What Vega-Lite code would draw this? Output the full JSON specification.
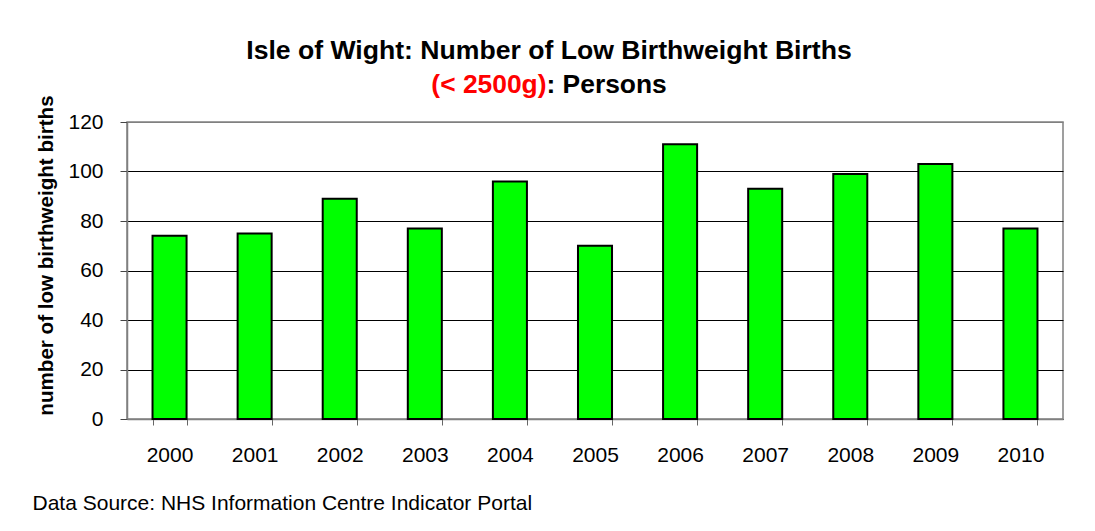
{
  "$schema": "https://vega.github.io/schema/vega-lite/v6.json",
  "width": 936,
  "height": 297,
  "autosize": {"type": "none"},
  "padding": {"left": 127, "top": 122, "right": 32, "bottom": 112},
  "background": "white",
  "config": {
    "font": "Liberation Sans",
    "view": {"stroke": "#808080", "strokeWidth": 1.5}
  },
  "title": {
    "text": "Isle of Wight: Number of Low Birthweight Births",
    "font": "Liberation Sans",
    "fontSize": 26.6,
    "fontWeight": "bold",
    "color": "black",
    "anchor": "middle",
    "baseline": "alphabetic",
    "dx": -46,
    "offset": -14
  },
  "data": {
    "values": [
      {"year": "2000", "births": 74},
      {"year": "2001", "births": 75},
      {"year": "2002", "births": 89},
      {"year": "2003", "births": 77},
      {"year": "2004", "births": 96},
      {"year": "2005", "births": 70},
      {"year": "2006", "births": 111},
      {"year": "2007", "births": 93},
      {"year": "2008", "births": 99},
      {"year": "2009", "births": 103},
      {"year": "2010", "births": 77}
    ]
  },
  "resolve": {"axis": {"x": "independent", "y": "independent"}},
  "layer": [
    {
      "mark": {"type": "bar", "fill": "#00FF00", "stroke": "black", "strokeWidth": 2},
      "encoding": {
        "x": {
          "field": "year",
          "type": "nominal",
          "sort": null,
          "scale": {"paddingInner": 0.6, "paddingOuter": 0.3},
          "axis": {
            "orient": "bottom",
            "labelAngle": 0,
            "labelFontSize": 21,
            "labelColor": "black",
            "labelPadding": 19,
            "tickBand": "extent",
            "tickSize": 6,
            "tickColor": "#666666",
            "domainColor": "#808080",
            "domainWidth": 1.5,
            "grid": false,
            "title": "Data Source: NHS Information Centre Indicator Portal",
            "titleFontSize": 21,
            "titleFontWeight": "normal",
            "titleColor": "black",
            "titleAlign": "left",
            "titleBaseline": "alphabetic",
            "titleX": -95,
            "titleY": 90
          }
        },
        "y": {
          "field": "births",
          "type": "quantitative",
          "scale": {"domain": [0, 120], "nice": false},
          "axis": {
            "orient": "left",
            "values": [0, 20, 40, 60, 80, 100, 120],
            "labelFontSize": 21,
            "labelColor": "black",
            "labelPadding": 17,
            "tickSize": 7,
            "tickColor": "#444444",
            "domainColor": "#808080",
            "domainWidth": 1.5,
            "grid": true,
            "gridColor": {"condition": {"test": "datum.value === 120", "value": "#808080"}, "value": "black"},
            "gridWidth": 1,
            "gridOpacity": 1,
            "title": "number of low birthweight births",
            "titleFontSize": 20.6,
            "titleFontWeight": "bold",
            "titleColor": "black",
            "titleAngle": -90,
            "titleAlign": "center",
            "titleBaseline": "alphabetic",
            "titleX": -75,
            "titleY": 133
          }
        }
      }
    },
    {
      "mark": {"type": "bar", "opacity": 0},
      "encoding": {
        "x": {
          "field": "year",
          "type": "nominal",
          "sort": null,
          "axis": {
            "orient": "top",
            "domain": false,
            "ticks": false,
            "labels": false,
            "grid": false,
            "title": "(< 2500g)",
            "titleFontSize": 26.4,
            "titleFontWeight": "bold",
            "titleColor": "#FF0000",
            "titleAlign": "right",
            "titleBaseline": "alphabetic",
            "titleX": 419,
            "titleY": -29.5
          }
        },
        "y": {
          "field": "births",
          "type": "quantitative",
          "axis": {
            "orient": "right",
            "domain": false,
            "ticks": false,
            "labels": false,
            "grid": false,
            "title": ": Persons",
            "titleFontSize": 26.4,
            "titleFontWeight": "bold",
            "titleColor": "black",
            "titleAngle": 0,
            "titleAlign": "left",
            "titleBaseline": "alphabetic",
            "titleX": -517,
            "titleY": -29.5
          }
        }
      }
    }
  ]
}
